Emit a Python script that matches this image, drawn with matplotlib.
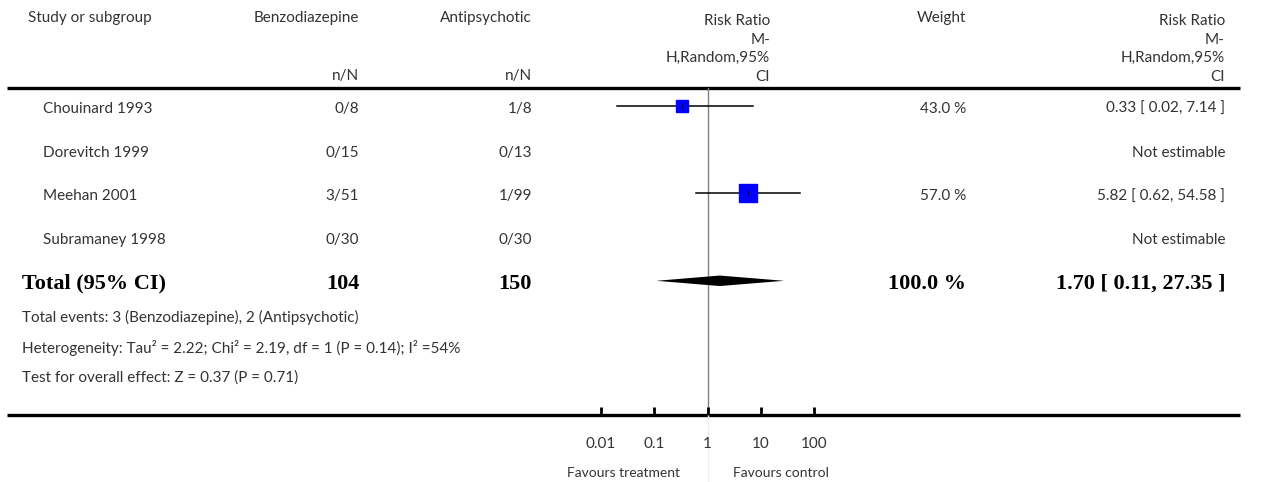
"""Forest plot: benzodiazepine vs antipsychotic, risk ratio."""

import matplotlib

matplotlib.use("Agg")
import matplotlib.pyplot as plt

# ---- data -------------------------------------------------------------
studies = ["Chouinard 1993", "Dorevitch 1999", "Meehan 2001", "Subramaney 1998"]
benzo = ["0/8", "0/15", "3/51", "0/30"]
antipsy = ["1/8", "0/13", "1/99", "0/30"]
rr = [0.33, None, 5.82, None]
rr_lo = [0.02, None, 0.62, None]
rr_hi = [7.14, None, 54.58, None]
weights = [43.0, None, 57.0, None]

total_benzo = 104
total_antipsy = 150
total_rr, total_lo, total_hi = 1.70, 0.11, 27.35
total_weight = 100.0

footnotes = [
    "Total events: 3 (Benzodiazepine), 2 (Antipsychotic)",
    "Heterogeneity: Tau² = 2.22; Chi² = 2.19, df = 1 (P = 0.14); I² =54%",
    "Test for overall effect: Z = 0.37 (P = 0.71)",
]
tick_values = [0.01, 0.1, 1, 10, 100]
tick_labels = ["0.01", "0.1", "1", "10", "100"]

# ---- layout (pixels) --------------------------------------------------
W, H = 1266, 482
TEXT = "#333333"
FONT = "Lato"
FS = 11
row0, step = 106, 43.7
top_rule, axis_rule = 88, 415
x_study, x_total = 43, 22
x_benzo, x_anti, x_weight, x_rr = 359, 532, 966, 1225
x_rr_head = 770

fig = plt.figure(figsize=(W / 100, H / 100), dpi=100)
tab = fig.add_axes([0, 0, 1, 1])
tab.set_xlim(0, W)
tab.set_ylim(H, 0)
tab.axis("off")


def txt(x, y, s, ha="left", **kw):
    opts = dict(fontsize=FS, color=TEXT, family=FONT, va="center")
    opts.update(kw)
    tab.text(x, y, s, ha=ha, **opts)


# header
txt(28, 18, "Study or subgroup")
txt(x_benzo, 18, "Benzodiazepine", ha="right")
txt(x_anti, 18, "Antipsychotic", ha="right")
txt(x_benzo, 76, "n/N", ha="right")
txt(x_anti, 76, "n/N", ha="right")
txt(x_weight, 18, "Weight", ha="right")
head = "Risk Ratio\nM-\nH,Random,95%\nCI"
for xh in (x_rr_head, x_rr):
    tab.text(xh, 84, head, ha="right", va="bottom", multialignment="right",
             fontsize=FS, color=TEXT, family=FONT, linespacing=1.42)

tab.plot([7, 1240], [top_rule, top_rule], color="black", lw=2.4,
         solid_capstyle="butt")
tab.plot([7, 1240], [axis_rule, axis_rule], color="black", lw=2.4,
         solid_capstyle="butt")

# study rows
for i, name in enumerate(studies):
    y = row0 + step * i + 3
    txt(x_study, y, name)
    txt(x_benzo, y, benzo[i], ha="right")
    txt(x_anti, y, antipsy[i], ha="right")
    if rr[i] is None:
        txt(x_rr, y, "Not estimable", ha="right")
    else:
        txt(x_weight, y, f"{weights[i]:.1f} %", ha="right")
        txt(x_rr, y, f"{rr[i]:.2f} [ {rr_lo[i]:.2f}, {rr_hi[i]:.2f} ]",
            ha="right")

# total row
yt = row0 + step * len(studies) + 3
bold = dict(family="Liberation Serif", fontweight="bold", fontsize=16,
            color="black")
txt(x_total, yt, "Total (95% CI)", **bold)
txt(x_benzo, yt, str(total_benzo), ha="right", **bold)
txt(x_anti, yt, str(total_antipsy), ha="right", **bold)
txt(x_weight, yt, f"{total_weight:.1f} %", ha="right", **bold)
txt(x_rr, yt, f"{total_rr:.2f} [ {total_lo:.2f}, {total_hi:.2f} ]",
    ha="right", **bold)

for k, note in enumerate(footnotes):
    txt(x_total, 317 + 30.5 * k, note)

# ---- forest panel -----------------------------------------------------
x0, x1 = 601, 814
ax = fig.add_axes([x0 / W, 1 - axis_rule / H, (x1 - x0) / W,
                   (axis_rule - top_rule) / H])
ax.set_xscale("log")
ax.set_xlim(tick_values[0], tick_values[-1])
ax.set_ylim((axis_rule - row0) / step, (top_rule - row0) / step)
ax.patch.set_visible(False)
for side in ("top", "right", "left", "bottom"):
    ax.spines[side].set_visible(False)
ax.set_yticks([])
ax.set_xticks(tick_values, tick_labels)
ax.minorticks_off()
ax.tick_params(axis="x", direction="in", length=6, width=2, color="black",
               pad=16, labelsize=FS, labelcolor=TEXT)
for lab in ax.get_xticklabels():
    lab.set_family(FONT)

ax.axvline(1, color="#808080", lw=1, zorder=1)
ax.plot([1, 1], [ax.get_ylim()[0], ax.get_ylim()[0] + 1.55], color="#eeeeee",
        lw=1, clip_on=False, zorder=0)

for i in range(len(studies)):
    if rr[i] is None:
        continue
    ax.plot([rr_lo[i], rr_hi[i]], [i, i], color="black", lw=1.1, zorder=2)
    ax.plot(rr[i], i, marker="s", ms=weights[i] * 0.216, color="#0000ff",
            mec="#0000ff", zorder=3)
    ax.plot(rr[i], i, marker="|", ms=4, color="black", mew=0.8, zorder=4)

ti = len(studies)
dh = 0.12
ax.fill([total_lo, total_rr, total_hi, total_rr],
        [ti, ti - dh, ti, ti + dh], color="black", lw=0, zorder=3)

txt(680, 473, "Favours treatment", ha="right", fontsize=10)
txt(733, 473, "Favours control", fontsize=10)

fig.savefig("out.png", dpi=100, facecolor="white")
